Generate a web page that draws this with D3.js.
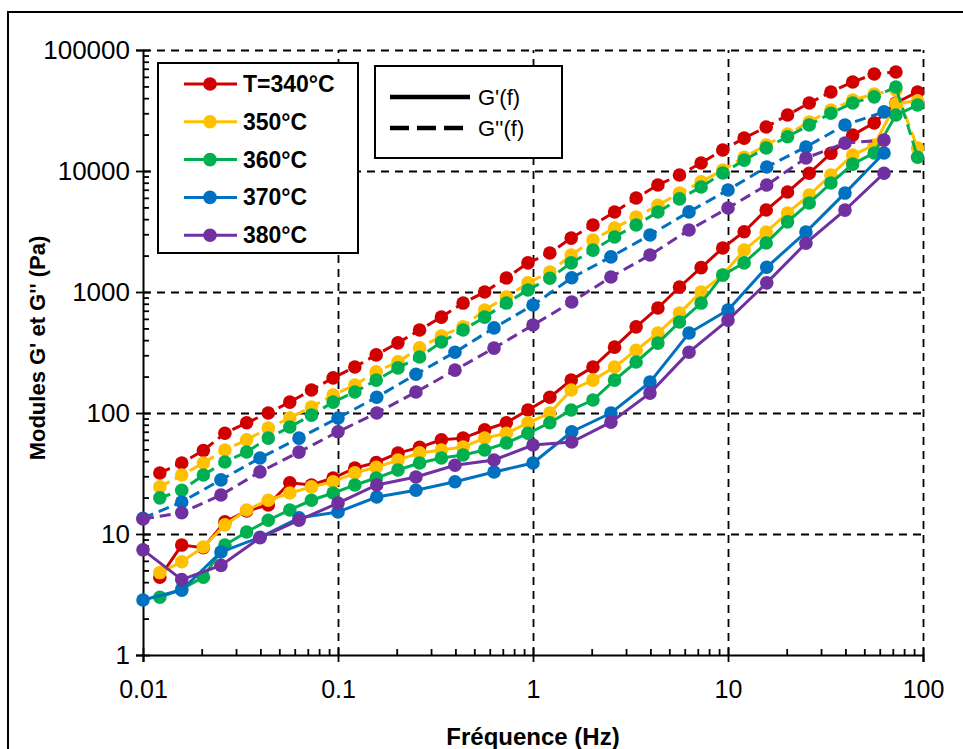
<!DOCTYPE html>
<html>
<head>
<meta charset="utf-8">
<script src="https://cdn.jsdelivr.net/npm/d3@7"></script>
<style>
  body { margin: 0; background: #fff; }
  svg text { font-family: "Liberation Sans Narrow", "Arial Narrow", "Liberation Sans", sans-serif; fill: #000; }
</style>
</head>
<body>
<div id="chart"></div>
<script>
// frequencies (Hz): 340/350/360 sweeps and 370/380 sweeps
const freqA = [0.0122, 0.0158, 0.0204, 0.0263, 0.034, 0.0439, 0.0566, 0.0731, 0.0944, 0.122,
  0.157, 0.203, 0.262, 0.339, 0.438, 0.565, 0.73, 0.942, 1.22, 1.57,
  2.03, 2.62, 3.38, 4.37, 5.64, 7.28, 9.4, 12.1, 15.7, 20.2,
  26.1, 33.7, 43.6, 56.2, 72.6, 93.8];
const freqB = [0.01, 0.0158, 0.0251, 0.0398, 0.0631, 0.1, 0.158, 0.251, 0.398, 0.631,
  1, 1.58, 2.51, 3.98, 6.31, 10, 15.8, 25.1, 39.8, 63.1];

// G' (storage) and G'' (loss) moduli, Pa
const gp340 = [4.4, 8.1, 7.7, 12.6, 15.5, 17.4, 26.5, 25.4, 29, 35, 39, 46.6, 52, 60, 62, 72.5, 83, 106, 135, 187,
  240, 350, 515, 738, 1100, 1590, 2310, 3150, 4760, 6700, 9580, 14000, 19800, 25000, 36500, 45000];
const gpp340 = [31.9, 38.6, 49, 68, 83, 100, 123, 155, 195, 240, 302, 380, 485, 620, 810, 1000, 1306, 1740, 2100, 2790,
  3580, 4580, 5980, 7660, 9270, 11650, 14900, 18700, 23100, 29000, 36500, 45000, 54400, 63300, 65800, null];
const gp350 = [4.8, 5.9, 7.8, 11.9, 15.8, 19, 21.8, 24.5, 27, 32, 35.6, 40.8, 46.8, 49.4, 52.4, 62, 68, 83, 100, 155,
  187, 240, 330, 458, 670, 1000, 1380, 2220, 3130, 4500, 6330, 9270, 13550, 16400, 36000, 38000];
const gpp350 = [24.5, 30.7, 38.6, 49.5, 60, 75, 91, 112, 141, 170, 219, 265, 345, 433, 516, 710, 910, 1190, 1460, 2020,
  2690, 3380, 4170, 5200, 6580, 8130, 10200, 13000, 16400, 20200, 25400, 31900, 38600, 43300, 46700, 15500];
const gp360 = [3.0, 3.5, 4.4, 8.1, 10.4, 13, 15.8, 19, 21.8, 25.4, 29, 33.8, 38.6, 42.5, 45, 49.4, 56.5, 68, 83, 106,
  128, 187, 264, 378, 565, 810, 1380, 1740, 2540, 3800, 5440, 7950, 11400, 14100, 29000, 35100];
const gpp360 = [19.9, 23, 30.7, 39.4, 47.6, 62, 76.6, 96, 123, 149, 187, 236, 290, 386, 485, 620, 810, 1040, 1300, 1740,
  2220, 2850, 3580, 4580, 5880, 7380, 9620, 12300, 15500, 19200, 24000, 30000, 36500, 41000, 49400, 13000];
const gp370 = [2.85, 3.44, 7.1, 9.4, 13.6, 15.2, 20.2, 23, 27, 32.5, 38.6, 70, 100, 180, 458, 710, 1600, 3130, 6570, 14100];
const gpp370 = [13.5, 18.4, 28, 42.5, 62, 91, 135, 209, 318, 505, 780, 1310, 1950, 2960, 4590, 6970, 10800, 15800, 24000, 30800];
const gp380 = [7.4, 4.2, 5.5, 9.3, 13, 18, 25.4, 29.6, 37, 40.9, 54.4, 57.6, 84, 146, 318, 586, 1190, 2530, 4750, 9580];
const gpp380 = [13.3, 15, 21, 32.6, 47.5, 70, 100, 149, 226, 344, 533, 826, 1330, 2020, 3250, 4940, 7660, 12800, 17000, 18000];

const tempLabels = ["T=340°C", "350°C", "360°C", "370°C", "380°C"];
const colors = ["#D00000", "#FFC000", "#00B050", "#0070C0", "#7030A0"];
const xTicks = [0.01, 0.1, 1, 10, 100];
const yTicks = [1, 10, 100, 1000, 10000, 100000];

const w = 963, h = 749;
const svg = d3.select("#chart").append("svg").attr("width", w).attr("height", h);

// outer frame
svg.append("rect").attr("x", 8).attr("y", 12).attr("width", 1000).attr("height", 800)
  .attr("fill", "none").attr("stroke", "#000").attr("stroke-width", 2);

const x = d3.scaleLog().domain([0.01, 100]).range([143, 923]);
const y = d3.scaleLog().domain([1, 100000]).range([655, 50]);

// minor ticks values
const minorX = [], minorY = [];
xTicks.slice(0, -1).forEach(d => { for (let m = 2; m < 10; m++) minorX.push(d * m); });
yTicks.slice(0, -1).forEach(d => { for (let m = 2; m < 10; m++) minorY.push(d * m); });

// gridlines (dashed)
svg.append("g").attr("class", "grid")
  .attr("transform", `translate(0,${y(1)})`)
  .call(d3.axisBottom(x).tickValues(xTicks.slice(1)).tickSize(-(y(1) - y(100000))).tickFormat(""))
  .call(g => g.select(".domain").remove());
svg.append("g").attr("class", "grid")
  .attr("transform", `translate(${x(0.01)},0)`)
  .call(d3.axisLeft(y).tickValues(yTicks.slice(1)).tickSize(-(x(100) - x(0.01))).tickFormat(""))
  .call(g => g.select(".domain").remove());
svg.selectAll(".grid line").attr("stroke", "#000").attr("stroke-width", 1.8).attr("stroke-dasharray", "8,6");

// axes
const xAxis = svg.append("g").attr("transform", `translate(0,${y(1)})`)
  .call(d3.axisBottom(x).tickValues(xTicks).tickSize(7).tickPadding(18).tickFormat(d => d));
const xIn = svg.append("g").attr("transform", `translate(0,${y(1)})`)
  .call(d3.axisBottom(x).tickValues(xTicks).tickSize(-7).tickFormat(""));
const xMinor = svg.append("g").attr("transform", `translate(0,${y(1)})`)
  .call(d3.axisBottom(x).tickValues(minorX).tickSize(-6).tickFormat(""));
const yAxis = svg.append("g").attr("transform", `translate(${x(0.01)},0)`)
  .call(d3.axisLeft(y).tickValues(yTicks).tickSize(7).tickPadding(6).tickFormat(d => d));
const yIn = svg.append("g").attr("transform", `translate(${x(0.01)},0)`)
  .call(d3.axisLeft(y).tickValues(yTicks).tickSize(-7).tickFormat(""));
const yMinor = svg.append("g").attr("transform", `translate(${x(0.01)},0)`)
  .call(d3.axisLeft(y).tickValues(minorY).tickSize(-6).tickFormat(""));
[xAxis, xIn, xMinor, yAxis, yIn, yMinor].forEach(g => {
  g.selectAll("line").attr("stroke", "#000").attr("stroke-width", 1.8);
  g.select(".domain").attr("stroke", "#000").attr("stroke-width", 2);
});
[xIn, xMinor, yIn, yMinor].forEach(g => g.select(".domain").remove());
xAxis.selectAll("text").attr("font-size", 25);
yAxis.selectAll("text").attr("font-size", 26);

// axis titles
svg.append("text").attr("x", 533).attr("y", 745).attr("text-anchor", "middle")
  .attr("font-size", 24).attr("font-weight", "bold").text("Fréquence (Hz)");
svg.append("text").attr("transform", "translate(45,348) rotate(-90)").attr("text-anchor", "middle")
  .attr("font-size", 22).attr("font-weight", "bold").text("Modules G' et G'' (Pa)");

// series
const series = [
  { f: freqA, gp: gp340, gpp: gpp340 },
  { f: freqA, gp: gp350, gpp: gpp350 },
  { f: freqA, gp: gp360, gpp: gpp360 },
  { f: freqB, gp: gp370, gpp: gpp370 },
  { f: freqB, gp: gp380, gpp: gpp380 }
];
const line = d3.line().defined(d => d[1] != null).x(d => x(d[0])).y(d => y(d[1]));

series.forEach((s, i) => {
  const c = colors[i];
  [[s.gp, null], [s.gpp, "11,6"]].forEach(([vals, dash]) => {
    const pts = s.f.map((f, j) => [f, vals[j]]);
    svg.append("path").datum(pts).attr("d", line)
      .attr("fill", "none").attr("stroke", c).attr("stroke-width", 3)
      .attr("stroke-dasharray", dash);
    svg.append("g").selectAll("circle").data(pts.filter(d => d[1] != null)).enter()
      .append("circle").attr("cx", d => x(d[0])).attr("cy", d => y(d[1])).attr("r", 6.8)
      .attr("fill", c);
  });
});

// legend: temperatures
svg.append("rect").attr("x", 158).attr("y", 63).attr("width", 200).attr("height", 190)
  .attr("fill", "#fff").attr("stroke", "#000").attr("stroke-width", 2);
tempLabels.forEach((t, i) => {
  const ly = 84 + i * 37.8;
  svg.append("line").attr("x1", 184).attr("x2", 237).attr("y1", ly).attr("y2", ly)
    .attr("stroke", colors[i]).attr("stroke-width", 3);
  svg.append("circle").attr("cx", 210).attr("cy", ly).attr("r", 6.8).attr("fill", colors[i]);
  svg.append("text").attr("x", 243).attr("y", ly).attr("dy", "0.35em")
    .attr("font-size", 23).attr("font-weight", "bold").text(t);
});

// legend: line styles
svg.append("rect").attr("x", 375).attr("y", 66).attr("width", 187).attr("height", 92)
  .attr("fill", "#fff").attr("stroke", "#000").attr("stroke-width", 2);
[["G'(f)", null, 97], ["G''(f)", "19,8", 128]].forEach(([t, dash, ly]) => {
  svg.append("line").attr("x1", 390).attr("x2", 470).attr("y1", ly).attr("y2", ly)
    .attr("stroke", "#000").attr("stroke-width", 4.5).attr("stroke-dasharray", dash);
  svg.append("text").attr("x", 478).attr("y", ly).attr("dy", "0.35em")
    .attr("font-size", 22).text(t);
});
</script>
</body>
</html>
